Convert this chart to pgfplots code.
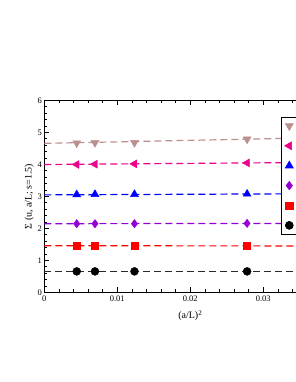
\documentclass[border=0pt]{standalone}
\usepackage{fontspec}
\setmainfont{Liberation Serif}
\usepackage{pgfplots}
\pgfplotsset{compat=1.18}
\definecolor{rbrown}{RGB}{188,143,143}
\definecolor{dviolet}{RGB}{148,0,211}
\definecolor{dgrey}{RGB}{40,40,40}
\begin{document}
\begin{tikzpicture}
\begin{axis}[
 at={(44.3pt,89.5pt)}, anchor=south west,
 scale only axis, width=292pt, height=192pt,
 xmin=0, xmax=0.04, ymin=0, ymax=6,
 xtick={0,0.01,0.02,0.03}, xticklabels={0,0.01,0.02,0.03},
 minor xtick={0.002,0.004,0.006,0.008,0.012,0.014,0.016,0.018,0.022,0.024,0.026,0.028,0.032,0.034,0.036,0.038},
 ytick={0,1,2,3,4,5,6}, yticklabels={0,1,2,3,4,5,6},
 minor y tick num=4,
 tick align=inside, major tick length=5pt, minor tick length=3pt,
 tick style={black, line width=0.8pt},
 axis line style={line width=1pt},
 ticklabel style={font=\fontsize{8.5}{10}\selectfont},
 yticklabel style={xshift=1pt},
 label style={font=\fontsize{10}{12}\selectfont},
 xlabel={(a/L)\textsuperscript{2}},
 ylabel={Σ (u, a/L; s=1.5)},
 x label style={at={(axis description cs:0.5,-0.122)}, anchor=center},
 y label style={at={(axis description cs:-0.052,0.5)}, anchor=center},
 legend style={at={(0.812,0.916)}, anchor=north west, draw=black, line width=0.6pt,
   font=\fontsize{10}{12}\selectfont, row sep=6pt, fill=white},
 legend cell align=left,
]
% fit lines
\addplot[forget plot, rbrown, line width=1.2pt, dash pattern=on 7pt off 4pt] coordinates {(0,4.66) (0.04,4.85)};
\addplot[forget plot, magenta, line width=1.2pt, dash pattern=on 7pt off 4pt] coordinates {(0,4.00) (0.04,4.07)};
\addplot[forget plot, blue, line width=1.2pt, dash pattern=on 7pt off 4pt] coordinates {(0,3.05) (0.04,3.09)};
\addplot[forget plot, dviolet, line width=1.2pt, dash pattern=on 7pt off 4pt] coordinates {(0,2.15) (0.04,2.16)};
\addplot[forget plot, red, line width=1.2pt, dash pattern=on 7pt off 4pt] coordinates {(0,1.46) (0.04,1.455)};
\addplot[forget plot, dgrey, line width=1.2pt, dash pattern=on 7pt off 4pt] coordinates {(0,0.66) (0.04,0.66)};
% data
\addplot[only marks, mark=triangle*, mark size=4.6pt, color=rbrown, mark options={rotate=180, fill=rbrown}] coordinates {(0.00444,4.67) (0.00694,4.68) (0.01235,4.68) (0.02778,4.79)};
\addlegendentry{\strut\hspace{40pt}}
\addplot[only marks, mark=triangle*, mark size=4.6pt, color=magenta, mark options={rotate=90, fill=magenta}] coordinates {(0.00444,4.00) (0.00694,4.01) (0.01235,4.02) (0.02778,4.05)};
\addlegendentry{\strut\hspace{40pt}}
\addplot[only marks, mark=triangle*, mark size=4.6pt, color=blue, mark options={fill=blue}] coordinates {(0.00444,3.06) (0.00694,3.07) (0.01235,3.07) (0.02778,3.08)};
\addlegendentry{\strut\hspace{40pt}}
\addplot[only marks, mark=diamond*, mark size=4.2pt, color=dviolet, mark options={fill=dviolet}] coordinates {(0.00444,2.15) (0.00694,2.15) (0.01235,2.15) (0.02778,2.16)};
\addlegendentry{\strut\hspace{40pt}}
\addplot[only marks, mark=square*, mark size=3.6pt, color=red, mark options={fill=red}] coordinates {(0.00444,1.46) (0.00694,1.46) (0.01235,1.46) (0.02778,1.45)};
\addlegendentry{\strut\hspace{40pt}}
\addplot[only marks, mark=*, mark size=4pt, color=black, mark options={fill=black}] coordinates {(0.00444,0.66) (0.00694,0.66) (0.01235,0.66) (0.02778,0.66)};
\addlegendentry{\strut\hspace{40pt}}
\end{axis}
\pgfresetboundingbox
\path[use as bounding box] (0pt,0pt) rectangle (295pt,382pt);
\end{tikzpicture}
\end{document}
